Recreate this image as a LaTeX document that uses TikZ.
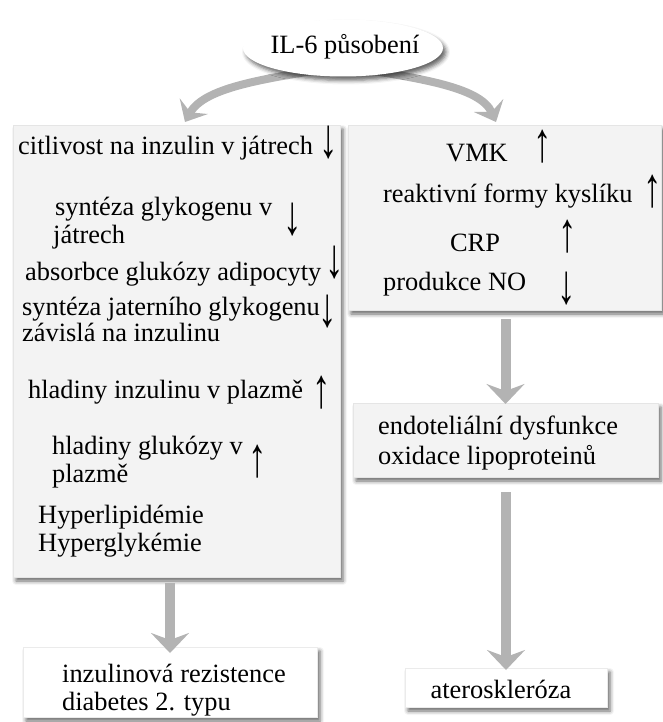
\documentclass[tikz,border=0pt]{standalone}
\usepackage{fontspec}
\setmainfont{Liberation Serif}
\usetikzlibrary{shapes.geometric,arrows.meta,shadows.blur}
\definecolor{boxfill}{HTML}{F3F3F3}
\definecolor{arrgray}{HTML}{B3B3B3}
\newcommand{\tallsym}[1]{\scalebox{1.15}[1.75]{#1}}
\begin{document}
\begin{tikzpicture}[x=1pt,y=-1pt,
  shad/.style={blur shadow={shadow xshift=3pt,shadow yshift=-4pt,shadow blur radius=4pt,shadow opacity=60}},
  panel/.style={shad,draw=black!10,fill=boxfill,inner sep=0pt,outer sep=0pt,anchor=north west},
  wpanel/.style={shad,draw=black!8,fill=white,inner sep=0pt,outer sep=0pt,anchor=north west},
  txt/.style={anchor=base west,inner sep=0pt,font=\fontsize{26.4}{28}\selectfont},
  ctxt/.style={anchor=center,inner sep=0pt,font=\fontsize{26.4}{28}\selectfont},
  updown/.style={anchor=center,inner sep=0pt,font=\fontsize{32}{32}\selectfont},
  garrow/.style={draw=arrgray,line width=10pt,-{Stealth[length=20pt,width=38pt,inset=7pt]}},
  carrow/.style={draw=arrgray,line width=8pt,-{Stealth[length=18pt,width=32pt,inset=7pt]}}
]
\useasboundingbox (0,0) rectangle (663,722);

% boxes
\node[panel,minimum width=327pt,minimum height=452pt] (L) at (13,125) {};
\node[panel,minimum width=313pt,minimum height=185pt] (R) at (348,125) {};
\node[panel,minimum width=305pt,minimum height=74pt] (E) at (353,403) {};
\node[wpanel,minimum width=202pt,minimum height=39pt] (A) at (405,668) {};
\node[wpanel,minimum width=294pt,minimum height=70pt] (D) at (23,647) {};

% curved connectors from the top ellipse (drawn first, so the ellipse covers their start)
\coordinate (ts) at (343,66);
\coordinate (la) at (185,122);
\coordinate (ra) at (496,122);
\draw[carrow] (ts) .. controls (270,78) and (205,86) .. (la);
\draw[carrow] (ts) .. controls (416,78) and (480,86) .. (ra);

\node[ellipse,shad,fill=white,minimum width=200pt,minimum height=57pt,inner sep=0pt] (top) at (343,48) {};
\node[ctxt] (toptxt) at (345,47) {IL-6 působení};

% vertical connectors
\draw[garrow,shorten <=6pt,shorten >=-6pt] (L.south -| D.north) -- (D.north);
\draw[garrow,shorten <=9pt,shorten >=-1pt] (R.south -| E.north) -- (E.north);
\draw[garrow,shorten <=15pt,shorten >=-2pt] (E.south -| A.north) -- (A.north);

% left box text
\node[txt] (l1) at (18,155) {citlivost na inzulin v játrech};
\node[txt] (l2a) at (55,215) {syntéza glykogenu v};
\node[txt] (l2b) at (53,243) {játrech};
\node[txt] (l3) at (25,280) {absorbce glukózy adipocyty};
\node[txt] (l4a) at (22,315) {syntéza jaterního glykogenu};
\node[txt] (l4b) at (22,341) {závislá na inzulinu};
\node[txt] (l5) at (28,398) {hladiny inzulinu v plazmě};
\node[txt] (l6a) at (52,454) {hladiny glukózy v};
\node[txt] (l6b) at (52,482) {plazmě};
\node[txt] (l7a) at (38,523) {Hyperlipidémie};
\node[txt] (l7b) at (38,551) {Hyperglykémie};

\node[updown] (u1) at (329,143) {\tallsym{↓}};
\node[updown] (u2) at (293,220) {\tallsym{↓}};
\node[updown] (u3) at (335,263) {\tallsym{↓}};
\node[updown] (u4) at (328,312) {\tallsym{↓}};
\node[updown] (u5) at (322,393) {\tallsym{↑}};
\node[updown] (u6) at (258,462) {\tallsym{↑}};

% right box text
\node[ctxt] (r1) at (477,153) {VMK};
\node[txt] (r2) at (383,202) {reaktivní formy kyslíku};
\node[ctxt] (r3) at (475,243) {CRP};
\node[txt] (r4) at (383,290) {produkce NO};
\node[updown] (v1) at (543,147) {\tallsym{↑}};
\node[updown] (v2) at (653,192) {\tallsym{↑}};
\node[updown] (v3) at (568,237) {\tallsym{↑}};
\node[updown] (v4) at (567,289) {\tallsym{↓}};

% lower boxes text
\node[txt] (e1) at (378,434) {endoteliální dysfunkce};
\node[txt] (e2) at (378,464) {oxidace lipoproteinů};
\node[txt] (d1) at (62,682) {inzulinová rezistence};
\node[txt] (d2) at (62,710) {diabetes 2. typu};
\node[ctxt] (a1) at (501,689) {ateroskleróza};
\end{tikzpicture}
\end{document}
